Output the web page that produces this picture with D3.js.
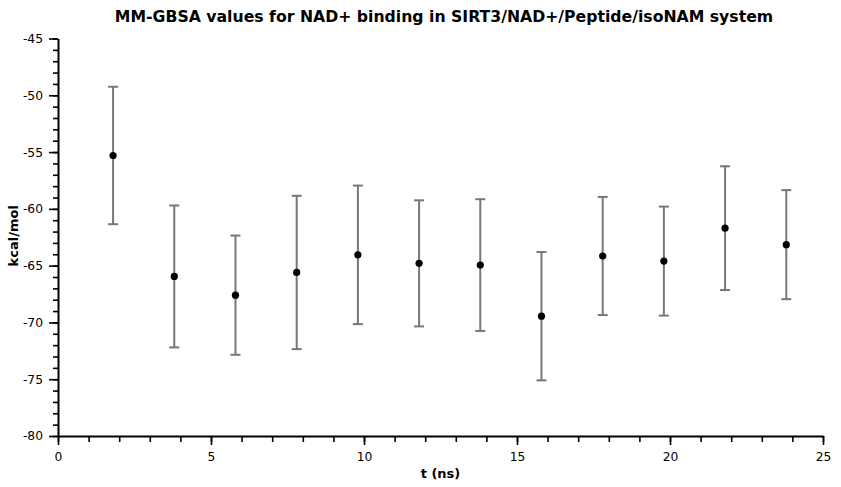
<!DOCTYPE html>
<html>
<head>
<meta charset="utf-8">
<script src="https://cdn.jsdelivr.net/npm/d3@7"></script>
<style>
  html, body { margin: 0; padding: 0; background: #fff; }
</style>
</head>
<body>
<script>
const WIDTH = 841;
const HEIGHT = 487;
const MARGIN = { top: 38.5, right: 18, bottom: 51, left: 58 };

// MM-GBSA binding energy per 2 ns window (kcal/mol) and standard deviation
const times = [1.8, 3.8, 5.8, 7.8, 9.8, 11.8, 13.8, 15.8, 17.8, 19.8, 21.8, 23.8];
const energies = [-55.3, -65.95, -67.6, -65.6, -64.05, -64.8, -64.95, -69.45, -64.15, -64.6, -61.7, -63.15];
const stdDevs = [6.05, 6.25, 5.25, 6.75, 6.1, 5.55, 5.8, 5.65, 5.2, 4.8, 5.45, 4.8];

const xTicks = [0, 5, 10, 15, 20, 25];
const yTicks = [-45, -50, -55, -60, -65, -70, -75, -80];

const FONT = "Verdana, 'DejaVu Sans', sans-serif";

const chartWidth = WIDTH - MARGIN.left - MARGIN.right;
const chartHeight = HEIGHT - MARGIN.top - MARGIN.bottom;

const x = d3.scaleLinear().domain([0, 25]).range([0, chartWidth]);
const y = d3.scaleLinear().domain([-80, -45]).range([chartHeight, 0]);

const svg = d3.select("body")
  .append("svg")
  .attr("width", WIDTH)
  .attr("height", HEIGHT)
  .attr("viewBox", `0 0 ${WIDTH} ${HEIGHT}`);

svg.append("rect").attr("width", WIDTH).attr("height", HEIGHT).attr("fill", "#fff");

const g = svg.append("g").attr("transform", `translate(${MARGIN.left},${MARGIN.top})`);

// title
svg.append("text")
  .attr("x", 444)
  .attr("y", 22)
  .attr("text-anchor", "middle")
  .attr("font-family", FONT)
  .attr("font-weight", "bold")
  .attr("font-size", "15.7px")
  .attr("fill", "#000")
  .text("MM-GBSA values for NAD+ binding in SIRT3/NAD+/Peptide/isoNAM system");

// minor ticks (drawn first, majors go on top)
const xMinor = g.append("g")
  .attr("transform", `translate(0,${chartHeight})`)
  .call(d3.axisBottom(x).ticks(25).tickSize(6).tickFormat(""));
xMinor.select(".domain").remove();

const yMinor = g.append("g")
  .call(d3.axisLeft(y).ticks(35).tickSize(5).tickFormat(""));
yMinor.select(".domain").remove();

// major axes, plain hyphen for negatives as in the original
const fmt = (d) => String(d);
const xAxis = g.append("g")
  .attr("transform", `translate(0,${chartHeight})`)
  .call(d3.axisBottom(x).tickValues(xTicks).tickFormat(fmt).tickSize(9).tickSizeOuter(0).tickPadding(7));

const yAxis = g.append("g")
  .call(d3.axisLeft(y).tickValues(yTicks).tickFormat(fmt).tickSize(9).tickSizeOuter(0).tickPadding(6));

[xAxis, yAxis, xMinor, yMinor].forEach((a) => {
  a.selectAll(".domain, .tick line").attr("stroke", "#000").attr("stroke-width", 1.6);
  a.selectAll("text")
    .attr("fill", "#000")
    .attr("font-family", FONT)
    .attr("font-size", "12.3px");
});
xAxis.selectAll(".domain").attr("stroke-width", 2);
yAxis.selectAll(".domain").attr("stroke-width", 2);

// axis labels
svg.append("text")
  .attr("x", MARGIN.left + chartWidth / 2)
  .attr("y", 478)
  .attr("text-anchor", "middle")
  .attr("font-family", FONT)
  .attr("font-weight", "bold")
  .attr("font-size", "13px")
  .text("t (ns)");

svg.append("text")
  .attr("transform", `translate(18,${MARGIN.top + chartHeight / 2 - 1.5}) rotate(-90)`)
  .attr("text-anchor", "middle")
  .attr("font-family", FONT)
  .attr("font-weight", "bold")
  .attr("font-size", "13px")
  .text("kcal/mol");

// error bars
const points = times.map((t, i) => ({ t, e: energies[i], sd: stdDevs[i] }));
const capHalf = 5;

const bars = g.append("g").attr("stroke", "#777").attr("stroke-width", 2);
bars.selectAll("line.stem")
  .data(points)
  .join("line")
  .attr("class", "stem")
  .attr("x1", (d) => x(d.t))
  .attr("x2", (d) => x(d.t))
  .attr("y1", (d) => y(d.e + d.sd))
  .attr("y2", (d) => y(d.e - d.sd));
bars.selectAll("line.capTop")
  .data(points)
  .join("line")
  .attr("class", "capTop")
  .attr("x1", (d) => x(d.t) - capHalf)
  .attr("x2", (d) => x(d.t) + capHalf)
  .attr("y1", (d) => y(d.e + d.sd))
  .attr("y2", (d) => y(d.e + d.sd));
bars.selectAll("line.capBot")
  .data(points)
  .join("line")
  .attr("class", "capBot")
  .attr("x1", (d) => x(d.t) - capHalf)
  .attr("x2", (d) => x(d.t) + capHalf)
  .attr("y1", (d) => y(d.e - d.sd))
  .attr("y2", (d) => y(d.e - d.sd));

// mean points
g.append("g")
  .selectAll("circle")
  .data(points)
  .join("circle")
  .attr("cx", (d) => x(d.t))
  .attr("cy", (d) => y(d.e))
  .attr("r", 3.6)
  .attr("fill", "#000");
</script>
</body>
</html>
